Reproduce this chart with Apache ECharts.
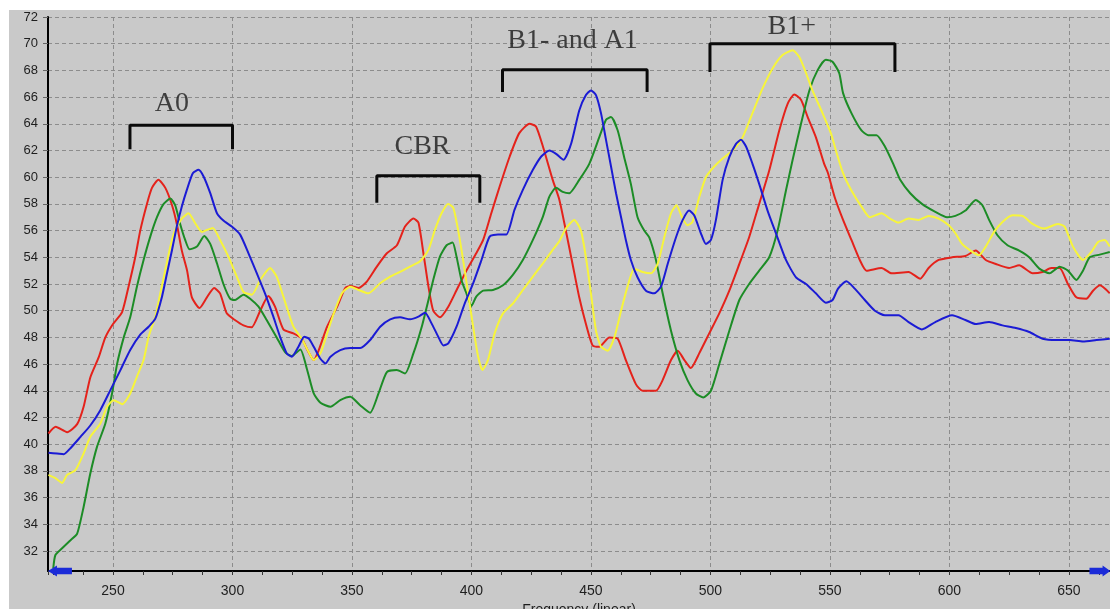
<!DOCTYPE html>
<html><head><meta charset="utf-8">
<script src="https://cdn.jsdelivr.net/npm/echarts@6/dist/echarts.min.js"></script>
<style>
html,body{margin:0;padding:0;background:#fff;width:1110px;height:609px;overflow:hidden;}
#chart{position:absolute;left:9px;top:10px;width:1101px;height:599px;background:#c9c9c9;}
</style></head><body><div id="chart"></div>
<script>
// Frequency (Hz) / level pairs
const redCurve = [[223,40.8],[226,41.3],[230.8,40.9],[235,41.5],[237.7,42.8],[240.5,45],[244,46.5],[246.8,48],[250,49],[253.8,49.9],[256.5,51.8],[259.3,54],[261.4,56],[264.2,58],[266.3,59.2],[269,59.8],[271.9,59.2],[274.7,57.9],[276.7,56.5],[278.8,54.5],[281,53],[283,51],[286.2,50.2],[289.3,51],[292.3,51.7],[294.8,51.3],[297.6,49.8],[301,49.3],[304.6,48.9],[308,48.75],[311.6,50],[315,51.1],[317.8,50.3],[321.3,48.6],[325.5,48.3],[329,47.9],[331.5,47],[334,46.3],[336,47],[339.6,48.8],[343.8,50.3],[347.2,51.7],[349.3,51.85],[352.8,51.7],[356.3,52.2],[360.4,53.3],[364.6,54.3],[368.8,54.9],[372.2,56.3],[375.7,56.9],[377.8,56.6],[379.9,54.3],[382,51.8],[384,50],[386.8,49.5],[390.3,50.3],[393.8,51.55],[397.9,53],[402,54.3],[404.9,55.3],[408.3,57.3],[411.8,59.3],[416,61.55],[420,63.3],[424.3,64],[427,63.8],[429.9,62.3],[434,59.8],[436.8,58.3],[439.5,56],[442.3,53.5],[445.1,51],[447.9,49],[450.7,47.4],[453.5,47.3],[457.7,48],[461.2,47.9],[464.6,46.3],[468.8,44.5],[471.6,44],[477.2,44],[480,44.8],[483.5,46.3],[486.3,47],[489.1,46.3],[491.8,45.7],[495.3,46.8],[499.5,48.3],[503.7,49.8],[507.9,51.5],[512.1,53.5],[516.2,55.5],[520.4,58],[524.6,60.5],[528.8,63.5],[532.3,65.5],[535.1,66.2],[537.9,65.8],[540.7,64.5],[544.1,63],[547.6,61],[549.2,60.3],[552,58.5],[555.5,56.8],[559,55.3],[562.5,53.8],[565.3,53],[571.6,53.2],[575.8,52.8],[582.9,52.9],[587.8,52.4],[591.3,53.2],[595.5,53.8],[601.1,54],[606.7,54.1],[611,54.5],[615.2,53.8],[619.4,53.5],[625,53.2],[629.2,53.4],[634.8,52.8],[639,52.9],[642.6,53.2],[646.1,53.2],[649.6,52],[653.1,51],[657.3,50.9],[660.1,51.5],[663,51.9],[667.1,51.3]];

const greenCurve = [[225,30.7],[225.9,31.7],[228.7,32.2],[232.2,32.8],[235,33.3],[237.7,35.3],[240.5,37.8],[243.3,39.8],[246.8,41.55],[249.6,43.8],[251.7,46],[254.5,48],[257.2,49.5],[260,51.8],[262.8,53.8],[265.6,55.55],[268.4,57],[271.2,58],[274,58.4],[276,57.9],[278.1,56.5],[280.2,55.3],[282,54.6],[285.1,54.8],[288.2,55.6],[290.7,55],[293.5,53.55],[296.2,52],[299,50.9],[301.1,50.8],[304.6,51.2],[307.4,50.9],[310.9,50.3],[314.3,49.3],[318.5,48],[322,46.9],[324.8,46.6],[328.4,47.1],[331.2,45.6],[334,43.8],[336.8,43.1],[341,42.8],[345.1,43.3],[349.3,43.55],[353.5,42.9],[357.6,42.35],[361.1,43.8],[364.6,45.4],[368.75,45.55],[372.2,45.3],[375.7,46.8],[379.2,48.8],[382,50.8],[384,52.3],[386.8,54.05],[389.6,54.9],[392.1,55.1],[393.75,54.05],[395.8,52.3],[397.9,51.3],[400,50.35],[402,51.05],[404.9,51.5],[409,51.55],[413.2,51.9],[417.4,52.7],[421.5,53.8],[425.7,55.3],[429.9,57.05],[432.6,58.55],[435.4,59.2],[438.2,58.9],[440.9,58.8],[445.1,59.8],[449.3,61],[453.5,63],[456.3,64.3],[458.4,64.5],[461.2,63.5],[463.9,61.5],[466.7,59.5],[469.5,57],[472.3,56],[474.4,55.5],[477.2,53.8],[480,51.3],[483.5,48.5],[487,46.3],[490.4,44.8],[493.9,43.8],[497,43.5],[500.2,44],[503.7,46],[507.9,48.5],[512.1,50.8],[516.2,52],[520.4,53],[524.6,54],[528.1,56],[531.6,59],[534.4,61.3],[537.9,64],[541.4,66.5],[544.8,68],[548.3,68.8],[551.1,68.65],[553.9,67.8],[555.5,66.3],[559,64.8],[563.2,63.5],[566,63.15],[569.5,63.15],[573,62.3],[576.5,61],[579.4,59.8],[583.6,58.8],[588.5,58],[594.1,57.4],[599,57],[602.5,57.1],[606.7,57.5],[611,58.3],[613.8,57.9],[616.6,56.8],[620.1,55.65],[624.3,54.9],[629.2,54.5],[633.4,54],[637.6,53.15],[641.9,52.8],[646.1,53.3],[649.6,53],[653.1,52.3],[655.9,53],[658.7,54],[662.9,54.2],[667.1,54.4]];

const blueCurve = [[223,39.35],[226.6,39.3],[229.4,39.25],[232.2,39.7],[236.4,40.55],[240.5,41.4],[244.7,42.55],[248.9,44.05],[253.1,45.55],[257.2,47.05],[261.4,48.2],[264.9,48.8],[267.7,49.4],[270.5,51.05],[272.6,52.8],[274.7,54.55],[276.7,56.3],[278.8,57.8],[280.9,59.05],[283.4,60.3],[285.8,60.55],[287.9,60.05],[290.7,58.8],[293.5,57.3],[296.2,56.75],[299.7,56.3],[303.2,55.7],[306.7,54.3],[310.2,52.8],[313.6,51.3],[317.1,49.55],[319.9,48.05],[322.7,46.8],[324.8,46.55],[327.6,47.3],[330,48.05],[332,47.9],[334,47.3],[336.8,46.4],[338.9,46.05],[341,46.55],[345.1,47.05],[349.3,47.2],[353.5,47.2],[357.6,47.8],[361.8,48.8],[366,49.35],[370.1,49.5],[374.3,49.35],[377.8,49.55],[380.6,49.85],[383.3,49.05],[386.1,48.05],[388.2,47.4],[390.3,47.55],[393.75,48.8],[397.2,50.55],[400.7,52.05],[404.2,53.8],[407.6,55.55],[411.1,55.7],[414.6,55.7],[418,57.55],[421.5,59.05],[425.7,60.55],[429.2,61.55],[432.6,62],[435.4,61.75],[438.5,61.3],[441.7,62.5],[445.1,65],[447.9,66.15],[450,66.5],[452.1,66.15],[454.2,64.8],[456.3,62.8],[458.4,60.8],[460.5,58.8],[462.6,57],[464.6,55.3],[466.7,53.8],[469.5,52.5],[473,51.5],[476.5,51.3],[479.3,51.8],[482.1,53.5],[485.6,55.5],[488.4,56.8],[491.1,57.5],[493.2,57.15],[496,55.8],[498.1,55],[500.2,55.3],[502.3,56.8],[505.1,59.8],[507.9,61.5],[510.7,62.5],[512.8,62.8],[514.9,62.3],[517.6,61],[520.4,59.5],[523.9,57.5],[527.4,55.8],[531.6,53.8],[535.8,52.5],[540,52],[544.1,51.3],[548.3,50.6],[551.1,50.8],[553.4,51.65],[556.9,52.2],[560.4,51.65],[564.6,50.8],[568.8,50],[573,49.65],[578.7,49.65],[582.9,49.15],[588.5,48.6],[594.1,49.15],[601.1,49.65],[606.7,49.3],[611,49],[616.6,49.15],[622.2,48.9],[627.8,48.7],[633.4,48.4],[639,47.9],[644.7,47.8],[650.3,47.8],[655.9,47.7],[661.5,47.8],[667.1,47.9]];

const yellowCurve = [[223,37.7],[225.9,37.45],[228.7,37.1],[230.8,37.7],[234.3,38.05],[237.7,39.3],[240.5,40.55],[244.7,41.55],[247.5,42.8],[250.3,43.3],[253.8,43],[257.2,43.8],[260,45.05],[262.8,46.3],[264.9,48.05],[267.7,49.55],[269.8,51.3],[271.9,53.05],[274,54.8],[276,56.05],[278.8,56.9],[281.6,57.3],[284.4,56.55],[287.2,55.9],[289.3,56.05],[291.8,56.2],[294.8,55.3],[298.3,54.05],[301.8,52.55],[304.6,51.4],[308.1,51.2],[311.6,52.3],[315.7,53.2],[318.5,52.55],[321.3,51.05],[325.5,48.8],[329,47.9],[331.3,47.1],[334,46.3],[336.8,46.8],[339.6,48.3],[342.4,49.8],[345.8,51.3],[349.3,51.8],[352.8,51.55],[356.9,51.3],[361.8,52.05],[366,52.55],[370.1,52.9],[374.3,53.3],[378.5,53.7],[382,54.55],[384.7,56.05],[387.5,57.3],[390.3,58],[392.4,57.7],[394.4,56.05],[396.5,53.8],[398.6,51.3],[400.7,48.8],[402.8,46.55],[404.6,45.55],[406.9,46.3],[409.7,48.3],[413.2,49.8],[417.4,50.55],[421.5,51.55],[425.7,52.55],[429.9,53.55],[434,54.55],[436.75,55.2],[439.5,56.15],[443,56.8],[445.8,56],[447.9,54],[450,51.3],[452.1,48.5],[454.2,47.3],[457,47],[459.8,48],[462.6,50],[465.3,51.8],[468.1,53.15],[471.6,52.9],[475.1,52.8],[477.9,53.5],[480.7,55.5],[483.5,57.3],[485.8,57.9],[488.1,57],[490.4,56.4],[492.5,56.65],[495.3,58.5],[498.1,60],[501.6,60.8],[505.1,61.4],[509.3,62],[513.5,63],[517.6,64.8],[521.8,66.65],[526,68.15],[530.2,69.15],[534.4,69.5],[537.2,69],[540,67.8],[542.7,66.5],[546.9,64.8],[550.4,63.3],[552.5,62],[555.5,60.3],[559,59],[563.2,57.8],[566.7,57],[571.6,57.3],[575.1,56.9],[578.7,56.6],[582.9,56.9],[587.1,56.8],[591.3,57.1],[595.5,56.9],[599.7,56.4],[602.5,55.8],[605.3,55],[608.8,54.5],[612.4,54.15],[615.2,54.8],[618.7,55.9],[622.2,56.65],[626.4,57.15],[630.6,57.1],[634.8,56.5],[639.7,56.15],[645.4,56.5],[648.2,56.3],[651.7,54.8],[655.9,53.8],[659.4,54.4],[662.2,55.15],[665,55.3],[667.1,54.8]];

// Annotation brackets (frequency range, bracket level, tick bottom) and their labels
const annotationNames  = ['A0', 'CBR', 'B1- and A1', 'B1+'];
const annotationFrom   = [257.1, 360.4, 413, 499.8];
const annotationTo     = [300, 403.5, 473.5, 577.2];
const annotationLevel  = [63.9, 60.1, 68.05, 70.0];
const annotationBottom = [62.2, 58.2, 66.5, 68.0];
const annotationTextX  = [274.6, 379.5, 442.3, 534];
const annotationTextY  = [65.5, 62.3, 70.2, 71.25];

const xRange = [222.8, 667.2];
const yRange = [30.5, 72];

const chart = echarts.init(document.getElementById('chart'), null, {renderer: 'canvas'});

const curveSeries = [
  {name: 'red', data: redCurve, color: '#e4221b'},
  {name: 'green', data: greenCurve, color: '#1c8c26'},
  {name: 'yellow', data: yellowCurve, color: '#f7f53a'},
  {name: 'blue', data: blueCurve, color: '#1b1bd4'}
].map(s => ({
  type: 'line', name: s.name, data: s.data, showSymbol: false, smooth: 0.2,
  lineStyle: {width: 2, color: s.color}, itemStyle: {color: s.color},
  clip: true, z: 3, silent: true
}));

const bracketSeries = annotationNames.map((n, i) => ({
  type: 'line', name: 'bracket-' + n,
  data: [[annotationFrom[i], annotationBottom[i]], [annotationFrom[i], annotationLevel[i]],
         [annotationTo[i], annotationLevel[i]], [annotationTo[i], annotationBottom[i]]],
  showSymbol: false, lineStyle: {width: 3, color: '#0a0a0a', cap: 'square'}, z: 4, silent: true
}));

const labelSeries = {
  type: 'scatter', name: 'labels', symbolSize: 1, itemStyle: {color: 'rgba(0,0,0,0)'},
  data: annotationNames.map((n, i) => ({value: [annotationTextX[i], annotationTextY[i]], name: n})),
  label: {show: true, position: 'inside', formatter: p => p.name,
          fontFamily: '"Liberation Serif", "Times New Roman", serif', fontSize: 28, color: '#1a1a1a'},
  z: 5, silent: true
};

const arrowSeries = {
  type: 'scatter', name: 'arrows', symbolSize: 0, data: [],
  markPoint: {
    silent: true, label: {show: false},
    itemStyle: {color: '#1b2bd8'},
    data: [
      {coord: [xRange[0] + 5, yRange[0]], symbol: 'path://M0,5 L9,0 L9,2 L24,2 L24,8 L9,8 L9,10 Z', symbolSize: [24, 11]},
      {coord: [xRange[1] - 4.2, yRange[0]], symbol: 'path://M24,5 L15,0 L15,2 L0,2 L0,8 L15,8 L15,10 Z', symbolSize: [21, 11]}
    ]
  },
  z: 6
};

const gridLine = {show: true, lineStyle: {color: '#8c8c8c', width: 1, type: [4, 3]}};

chart.setOption({
  animation: false,
  backgroundColor: '#c9c9c9',
  grid: {left: 39, right: 0, top: 7, bottom: 38, containLabel: false, outerBoundsMode: 'none'},
  xAxis: [{
    type: 'value', min: xRange[0], max: xRange[1], minInterval: 50, maxInterval: 50,
    axisLine: {show: true, onZero: false, lineStyle: {color: '#000', width: 2}},
    axisTick: {show: false},
    axisLabel: {showMinLabel: false, showMaxLabel: false, margin: 13, fontSize: 14,
                fontFamily: '"Liberation Sans", Arial, sans-serif', color: '#1e1e1e',
                formatter: v => (Math.abs(v % 50) < 1e-6 ? String(v) : '')},
    splitLine: gridLine,
    name: 'Frequency (linear)', nameLocation: 'middle', nameGap: 30,
    nameTextStyle: {fontSize: 14, fontFamily: '"Liberation Sans", Arial, sans-serif', color: '#1e1e1e'}
  }, {
    type: 'value', position: 'bottom', min: xRange[0], max: xRange[1], minInterval: 12.5, maxInterval: 12.5,
    axisLine: {show: false}, axisLabel: {show: false}, splitLine: {show: false},
    axisTick: {show: true, length: 4, lineStyle: {color: '#333', width: 1}}
  }],
  yAxis: {
    type: 'value', min: yRange[0], max: yRange[1], minInterval: 2, maxInterval: 2,
    axisLine: {show: true, onZero: false, lineStyle: {color: '#000', width: 2}},
    axisTick: {show: true, length: 5, lineStyle: {color: '#666', width: 1}},
    axisLabel: {showMinLabel: false, margin: 10, fontSize: 13,
                fontFamily: '"Liberation Sans", Arial, sans-serif', color: '#1e1e1e',
                formatter: v => (Math.abs(v % 2) < 1e-6 ? String(v) : '')},
    splitLine: gridLine
  },
  series: [...curveSeries, ...bracketSeries, labelSeries, arrowSeries]
});
</script></body></html>
